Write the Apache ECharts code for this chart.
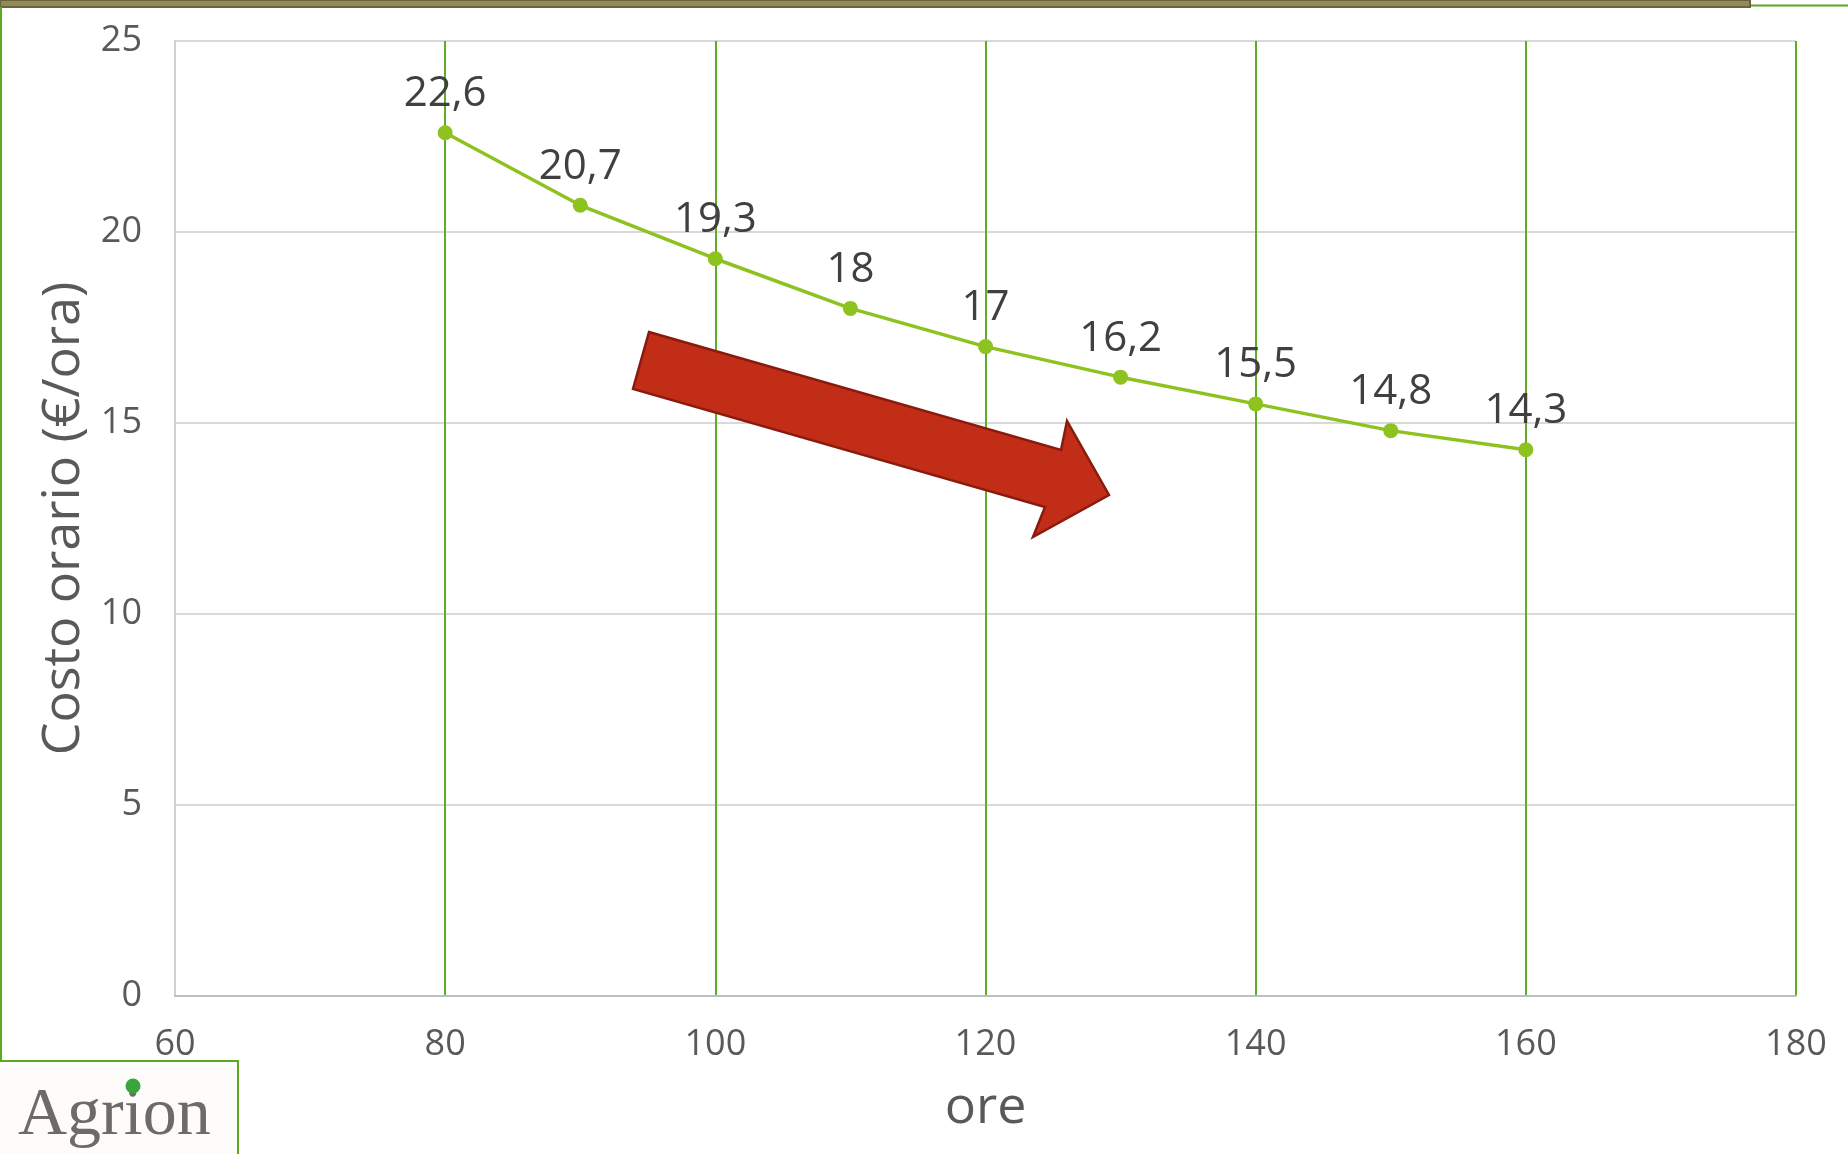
<!DOCTYPE html>
<html>
<head>
<meta charset="utf-8">
<script src="https://cdn.jsdelivr.net/npm/echarts@6/dist/echarts.min.js"></script>
<style>
html,body{margin:0;padding:0;background:#fff;}
#chart{width:1848px;height:1154px;}
</style>
</head>
<body>
<div id="chart"></div>
<script>
// ---- data ----
var hours = [80, 90, 100, 110, 120, 130, 140, 150, 160];
var hourlyCost = [22.6, 20.7, 19.3, 18, 17, 16.2, 15.5, 14.8, 14.3];
var xTicks = [60, 80, 100, 120, 140, 160, 180];
var yTicks = [0, 5, 10, 15, 20, 25];
var xTitle = 'ore';
var yTitle = 'Costo orario (€/ora)';
var logoText = 'Agrion';

var points = hours.map(function (h, i) { return [h, hourlyCost[i]]; });

var chart = echarts.init(document.getElementById('chart'), null, { renderer: 'canvas' });

var option = {
  backgroundColor: '#ffffff',
  animation: false,
  grid: { left: 175, right: 52, top: 41, bottom: 158 },
  xAxis: {
    type: 'value',
    min: xTicks[0],
    max: xTicks[xTicks.length - 1],
    interval: xTicks[1] - xTicks[0],
    name: xTitle,
    nameLocation: 'middle',
    nameGap: 86,
    nameTextStyle: { fontFamily: 'Open Sans', fontSize: 52, color: '#595959' },
    axisLine: { show: true, lineStyle: { color: '#bfbfbf', width: 2 } },
    axisTick: { show: false },
    axisLabel: { fontFamily: 'Open Sans', fontSize: 36, color: '#595959', margin: 31 },
    splitLine: { show: true, showMinLine: false, lineStyle: { color: '#5fad24', width: 2 } }
  },
  yAxis: {
    type: 'value',
    min: yTicks[0],
    max: yTicks[yTicks.length - 1],
    interval: yTicks[1] - yTicks[0],
    name: yTitle,
    nameLocation: 'middle',
    nameGap: 78,
    nameRotate: 90,
    nameTextStyle: { fontFamily: 'Open Sans', fontSize: 52, color: '#595959' },
    axisLine: { show: true, lineStyle: { color: '#d0d0d0', width: 2 } },
    axisTick: { show: false },
    axisLabel: { fontFamily: 'Open Sans', fontSize: 36, color: '#595959', margin: 33 },
    splitLine: { show: true, lineStyle: { color: '#d9d9d9', width: 2 } }
  },
  series: [{
    type: 'line',
    data: points,
    symbol: 'circle',
    symbolSize: 15,
    lineStyle: { color: '#8dc21f', width: 3.5 },
    itemStyle: { color: '#8dc21f' },
    label: {
      show: true,
      position: 'top',
      distance: 10,
      fontFamily: 'Open Sans',
      fontSize: 42,
      color: '#404040',
      formatter: function (p) { return String(p.value[1]).replace('.', ','); }
    },
    z: 5
  }],
  graphic: [
    // top olive band
    { type: 'rect', shape: { x: 0, y: 0, width: 1750, height: 7 }, style: { fill: '#948a54', stroke: '#6b6340', lineWidth: 2 }, z: 10 },
    // green line top-right
    { type: 'line', shape: { x1: 1751, y1: 5.5, x2: 1848, y2: 5.5 }, style: { stroke: '#5aaa1e', lineWidth: 2 }, z: 10 },
    // left green frame line
    { type: 'line', shape: { x1: 1, y1: 7, x2: 1, y2: 1061 }, style: { stroke: '#5aaa1e', lineWidth: 2 }, z: 10 },
    // logo box
    { type: 'rect', shape: { x: 0, y: 1061, width: 238, height: 93 }, style: { fill: '#fdfcfb' }, z: 10 },
    { type: 'polyline', shape: { points: [[0, 1061], [238, 1061], [238, 1154]] }, style: { stroke: '#5aaa1e', lineWidth: 2, fill: null }, z: 11 },
    { type: 'text', x: 18, y: 1082, style: { text: logoText, font: '68px "Liberation Serif"', fill: '#6e6a66', textVerticalAlign: 'top' }, z: 11 },
    { type: 'circle', shape: { cx: 133, cy: 1086, r: 7.5 }, style: { fill: '#3aa63a' }, z: 12 },
    // red arrow annotation
    {
      type: 'polygon',
      shape: { points: [[649, 332], [1061, 450], [1067, 421], [1109, 495], [1033, 537], [1045, 507], [633, 389]] },
      style: { fill: '#c22d18', stroke: '#8b1a0e', lineWidth: 2.5, lineJoin: 'miter' },
      z: 20
    }
  ]
};

chart.setOption(option);
</script>
</body>
</html>
